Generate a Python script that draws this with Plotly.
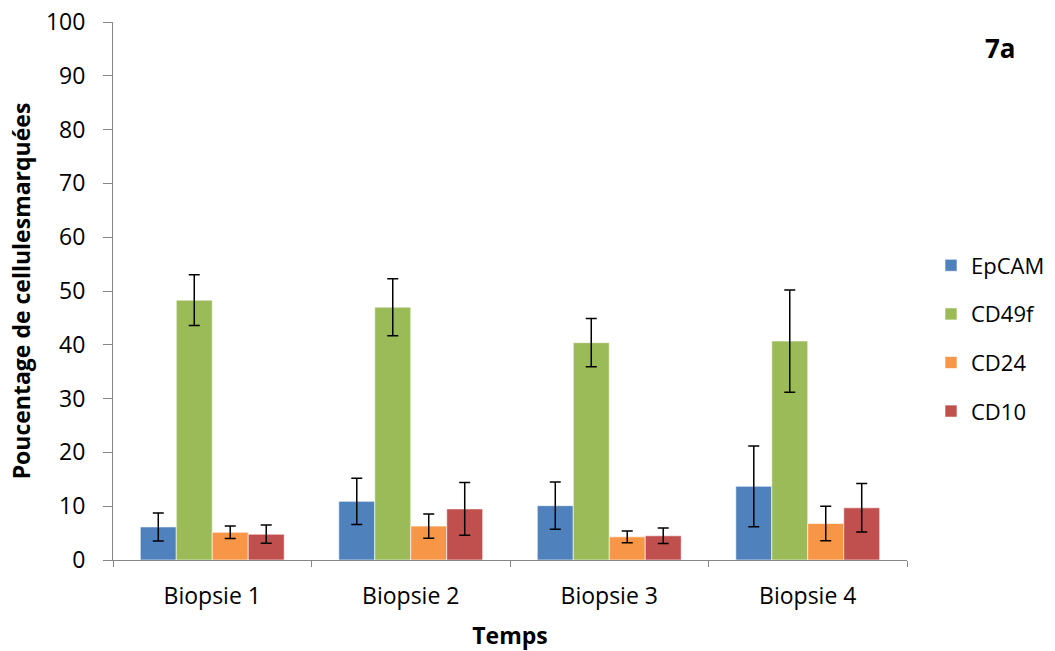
import plotly.graph_objects as go

categories = ["Biopsie 1", "Biopsie 2", "Biopsie 3", "Biopsie 4"]
series_names = ["EpCAM", "CD49f", "CD24", "CD10"]
epcam = [6.15, 10.9, 10.1, 13.7]
epcam_err = [2.6, 4.3, 4.4, 7.5]
cd49f = [48.3, 47.0, 40.4, 40.7]
cd49f_err = [4.7, 5.3, 4.5, 9.5]
cd24 = [5.15, 6.3, 4.3, 6.8]
cd24_err = [1.15, 2.25, 1.1, 3.2]
cd10 = [4.8, 9.5, 4.5, 9.7]
cd10_err = [1.7, 4.9, 1.45, 4.5]
colors = ["#4F81BD", "#9BBB59", "#F79646", "#C0504D"]

values = [epcam, cd49f, cd24, cd10]
errors = [epcam_err, cd49f_err, cd24_err, cd10_err]

font_family = "Open Sans, Liberation Sans, sans-serif"

L, R, T, B = 113, 148, 22, 91
W, H = 1055, 651
pw, ph = W - L - R, H - T - B

fig = go.Figure()
for name, vals, errs, col in zip(series_names, values, errors, colors):
    fig.add_trace(go.Bar(
        name=name, x=categories, y=vals,
        marker=dict(color=col, line=dict(color="rgba(255,255,255,0.6)", width=1)),
        error_y=dict(type="data", array=errs, visible=True, color="black",
                     thickness=1.5, width=5.5),
        legendgroup=name,
    ))

fig.update_layout(
    width=W, height=H,
    margin=dict(l=L, r=R, t=T, b=B, autoexpand=False),
    paper_bgcolor="white", plot_bgcolor="white",
    barmode="group", bargap=0.275, bargroupgap=0,
    font=dict(family=font_family, size=23, color="black"),
    showlegend=True,
    legend=dict(x=(931 - L) / pw, y=(560 - 338.5) / ph, xanchor="left", yanchor="middle",
                font=dict(size=22), traceorder="grouped", tracegroupgap=17,
                itemwidth=30, bgcolor="rgba(0,0,0,0)"),
    xaxis=dict(
        showline=True, linecolor="#868686", linewidth=1,
        ticks="outside", tickson="boundaries", ticklen=6, tickcolor="#868686",
        title=dict(text="<b>Temps</b>", font=dict(size=23), standoff=18),
        tickfont=dict(size=23), ticklabelstandoff=15,
        automargin=False,
    ),
    yaxis=dict(
        range=[0, 100], dtick=10, showgrid=False, zeroline=False,
        showline=True, linecolor="#868686", linewidth=1,
        ticks="outside", ticklen=9, tickcolor="#868686",
        tickfont=dict(size=23), ticklabelstandoff=13,
        title=dict(text="<b>Poucentage de cellulesmarquées</b>", font=dict(size=23), standoff=8),
        automargin=False,
    ),
    annotations=[dict(text="<b>7a</b>", x=(1000 - L) / pw, y=(560 - 48) / ph,
                      xref="paper", yref="paper", xanchor="center", yanchor="middle",
                      showarrow=False, font=dict(size=26))],
)

fig.write_html("out.html", config={"displayModeBar": False},
               post_script="document.body.style.margin='0';")
